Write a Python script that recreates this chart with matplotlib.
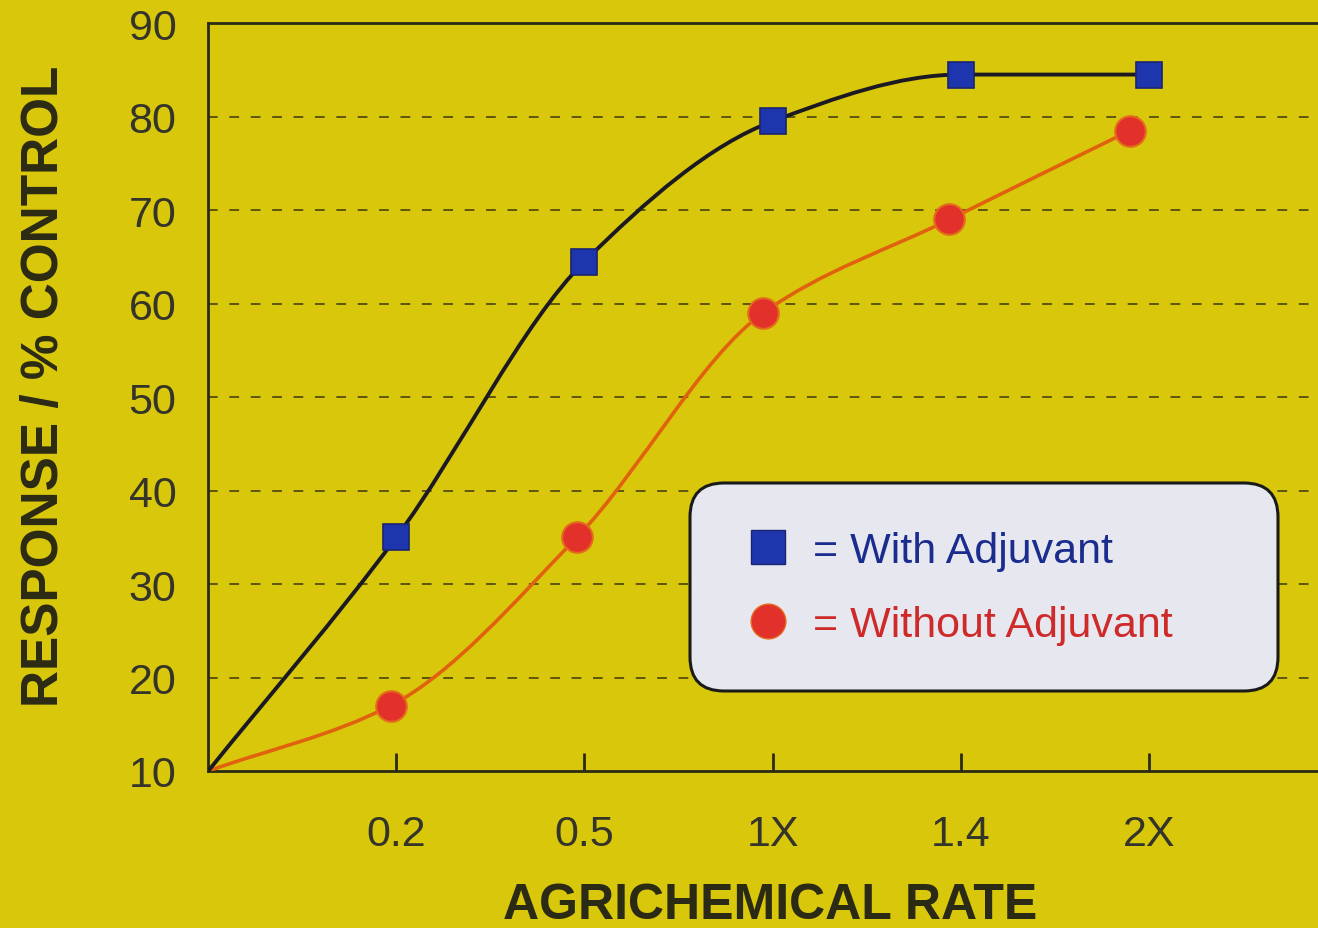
import numpy as np
import matplotlib.pyplot as plt
from matplotlib.path import Path
from matplotlib.patches import PathPatch, FancyBboxPatch
from matplotlib.transforms import IdentityTransform
from matplotlib.lines import Line2D

rate_labels = ['0.2', '0.5', '1X', '1.4', '2X']
rate_pos = [1, 2, 3, 4, 5]

# response curves, first point is the untreated origin
with_x = [0, 1, 2, 3, 4, 5]
with_y = [10, 35, 64.5, 79.5, 84.5, 84.5]
without_x = [0, 0.97, 1.96, 2.95, 3.94, 4.9]
without_y = [10, 17, 35, 59, 69, 78.5]

yticks = [10, 20, 30, 40, 50, 60, 70, 80, 90]

YELLOW = '#d9c70c'
INK = '#2b2a14'
FONT = ['Liberation Sans', 'DejaVu Sans']


def smooth_path(x, y):
    # monotone cubic (Fritsch-Carlson) as bezier segments
    x = np.asarray(x, float)
    y = np.asarray(y, float)
    h = np.diff(x)
    d = np.diff(y) / h
    m = np.zeros_like(y)
    m[0], m[-1] = d[0], d[-1]
    for i in range(1, len(y) - 1):
        if d[i - 1] * d[i] <= 0:
            m[i] = 0
        else:
            w1 = 2 * h[i] + h[i - 1]
            w2 = h[i] + 2 * h[i - 1]
            m[i] = (w1 + w2) / (w1 / d[i - 1] + w2 / d[i])
    verts = [(x[0], y[0])]
    codes = [Path.MOVETO]
    for i in range(len(x) - 1):
        verts += [(x[i] + h[i] / 3, y[i] + m[i] * h[i] / 3),
                  (x[i + 1] - h[i] / 3, y[i + 1] - m[i + 1] * h[i] / 3),
                  (x[i + 1], y[i + 1])]
        codes += [Path.CURVE4] * 3
    return Path(verts, codes)


fig = plt.figure(figsize=(13.18, 9.29), dpi=100)
fig.patch.set_facecolor(YELLOW)
ax = fig.add_axes([0.158, 0.169, 0.842, 0.805])
ax.set_facecolor(YELLOW)
ax.set_xlim(0, 5.9)
ax.set_ylim(10, 90)

for v in yticks[1:-1]:
    ax.axhline(v, color='#5e5510', lw=1.4, ls=(0, (5, 6)), zorder=1)

ax.add_patch(PathPatch(smooth_path(without_x, without_y), fill=False,
                       ec='#e0620e', lw=2.6, zorder=3))
ax.add_patch(PathPatch(smooth_path(with_x, with_y), fill=False,
                       ec='#1b1a22', lw=2.8, zorder=3))
ax.plot(without_x[1:], without_y[1:], 'o', ms=22, mfc='#e2302a',
        mec='#e46a1c', mew=1.5, zorder=4)
ax.plot(with_x[1:], with_y[1:], 's', ms=19, mfc='#1d36ad',
        mec='#1a2570', mew=1.2, zorder=4)

for s in ['left', 'bottom', 'top']:
    ax.spines[s].set_color(INK)
    ax.spines[s].set_linewidth(2)
ax.spines['right'].set_visible(False)

ax.set_yticks(yticks)
ax.set_xticks(rate_pos, rate_labels)
ax.tick_params(axis='y', length=0, pad=23, labelsize=31, labelcolor='#35342a')
ax.tick_params(axis='x', direction='in', length=13, width=2, color=INK,
               pad=31, labelsize=31, labelcolor='#35342a')
for lab in ax.get_xticklabels() + ax.get_yticklabels():
    lab.set_family(FONT)

fig.text(0.034, 0.584, 'RESPONSE / % CONTROL', rotation=90, ha='center',
         va='center', fontsize=37, fontweight='bold', color=INK,
         family=FONT)
fig.text(0.584, 0.0, 'AGRICHEMICAL RATE', ha='center', va='bottom',
         fontsize=36, fontweight='bold', color=INK, family=FONT)

# legend panel with rounded corners, sized in pixels
panel = FancyBboxPatch((690, 929 - 692), 588, 208,
                       boxstyle='round,pad=0,rounding_size=34',
                       transform=IdentityTransform(), fc='#e7e7ef',
                       ec='#1a1a1a', lw=2.2, zorder=5)
fig.patches.append(panel)

handles = [
    Line2D([], [], marker='s', ls='', ms=24, mfc='#1d36ad', mec='#1a2570'),
    Line2D([], [], marker='o', ls='', ms=25, mfc='#e2302a', mec='#e46a1c'),
]
leg = fig.legend(handles, ['= With Adjuvant', '= Without Adjuvant'],
                 loc='center left', bbox_to_anchor=(727 / 1318, 1 - 589 / 929),
                 frameon=False, borderpad=0, handlelength=0.9,
                 handletextpad=0.6, labelspacing=0.8,
                 prop={'family': FONT, 'size': 31})
leg.get_texts()[0].set_color('#1b2c8f')
leg.get_texts()[1].set_color('#cf2a2a')
leg.set_zorder(6)

fig.savefig('out.png', dpi=100, facecolor=YELLOW)
